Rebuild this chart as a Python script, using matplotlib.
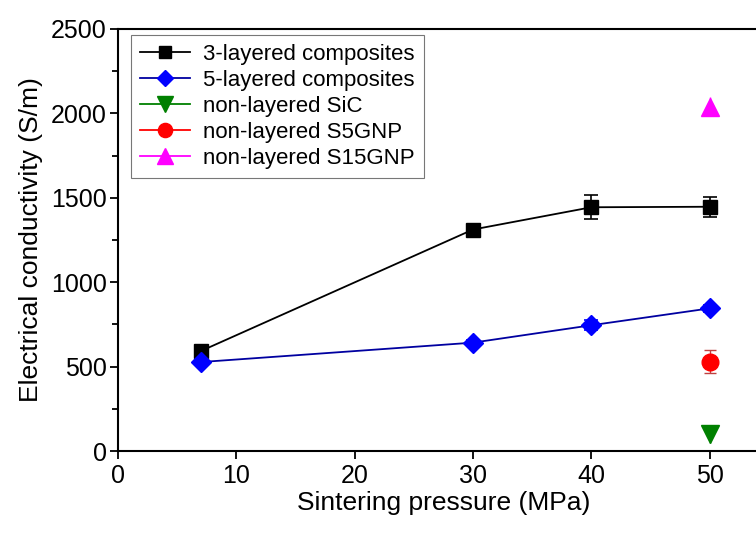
import matplotlib.pyplot as plt
from matplotlib.ticker import MultipleLocator

plt.rcParams['font.family'] = ['Liberation Sans', 'DejaVu Sans']

# data
pressure = [7, 30, 40, 50]
cond_3layer = [592, 1312, 1444, 1447]
err_3layer = [15, 25, 72, 58]
cond_5layer = [527, 642, 745, 845]
err_5layer = [10, 15, 30, 20]

p_single = [50]
cond_sic = [100]
err_sic = [55]
cond_s5 = [530]
err_s5 = [67]
cond_s15 = [2040]
err_s15 = [55]

fig = plt.figure(figsize=(7.56, 5.34), dpi=100)
ax = fig.add_axes([0.156, 0.1554, 0.861, 0.7903])

# error bars first, then the lines/markers (these carry the legend)
ax.errorbar(pressure, cond_3layer, yerr=err_3layer, fmt='none', ecolor='black',
            capsize=5, elinewidth=1.2, capthick=1.2)
ax.errorbar(pressure, cond_5layer, yerr=err_5layer, fmt='none', ecolor='blue',
            capsize=5, elinewidth=1.2, capthick=1.2)
ax.errorbar(p_single, cond_sic, yerr=err_sic, fmt='none', ecolor='green', elinewidth=1)
ax.errorbar(p_single, cond_s5, yerr=err_s5, fmt='none', ecolor='#c04040',
            capsize=4, elinewidth=1, capthick=1)
ax.errorbar(p_single, cond_s15, yerr=err_s15, fmt='none', ecolor='magenta', elinewidth=1)

ax.plot(pressure, cond_3layer, color='black', marker='s', ms=10, lw=1.3,
        label='3-layered composites')
ax.plot(pressure, cond_5layer, color='#0000a0', marker='D', ms=10, mfc='blue', mec='blue',
        lw=1.3, label='5-layered composites')
ax.plot(p_single, cond_sic, color='green', marker='v', ms=13, lw=1.3, label='non-layered SiC')
ax.plot(p_single, cond_s5, color='red', marker='o', ms=12, lw=1.3, label='non-layered S5GNP')
ax.plot(p_single, cond_s15, color='magenta', marker='^', ms=13, lw=1.3,
        label='non-layered S15GNP')

ax.set_xlim(0, 55)
ax.set_ylim(0, 2500)
ax.xaxis.set_major_locator(MultipleLocator(10))
ax.yaxis.set_major_locator(MultipleLocator(500))
ax.yaxis.set_minor_locator(MultipleLocator(250))
ax.tick_params(axis='both', which='major', direction='out', length=6, width=1.3,
               labelsize=18)
ax.tick_params(axis='y', which='major', pad=2)
ax.tick_params(axis='y', which='minor', direction='out', length=4, width=1.3)
for s in ax.spines.values():
    s.set_linewidth(1.5)

ax.set_xlabel('Sintering pressure (MPa)', fontsize=19, labelpad=2)
ax.set_ylabel('Electrical conductivity (S/m)', fontsize=19)
ax.yaxis.set_label_coords(-0.115, 0.5)

leg = ax.legend(loc='upper left', bbox_to_anchor=(0.02, 0.985), fontsize=16,
                fancybox=False, edgecolor='#555555', handlelength=2.25,
                handletextpad=0.6, borderpad=0.4, labelspacing=0.22,
                markerscale=0.85, borderaxespad=0)
leg.get_frame().set_linewidth(0.8)

fig.savefig('out.png', dpi=100)
